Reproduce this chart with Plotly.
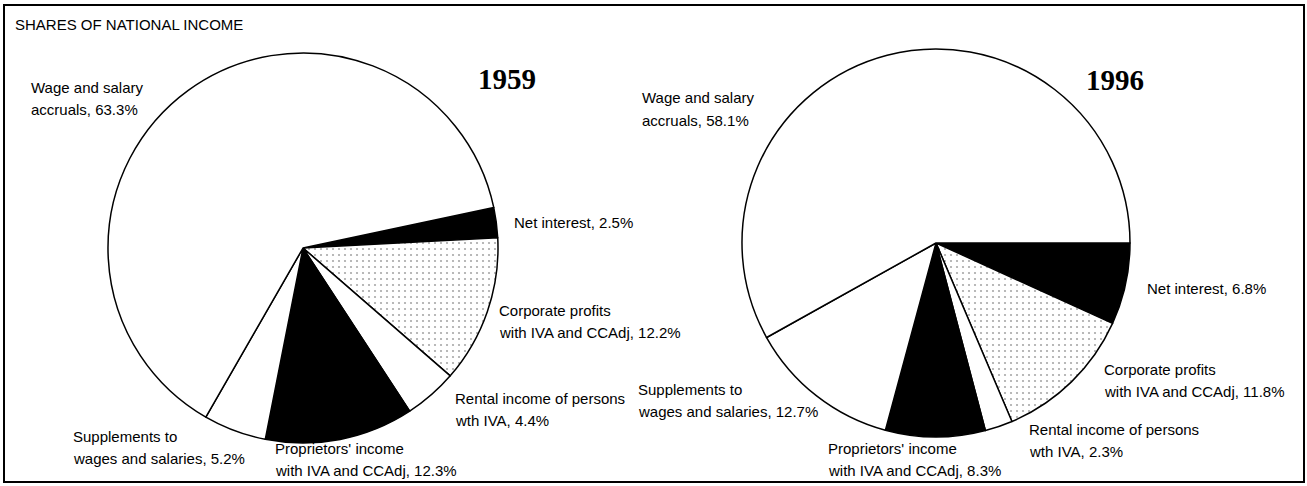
import plotly.graph_objects as go

W, H = 1307, 486

# ---- data ----
categories = ["Net interest", "Corporate profits", "Rental income", "Proprietors' income",
              "Supplements", "Wage and salary accruals"]
shares_1959 = [2.5, 12.2, 4.4, 12.3, 5.2, 63.3]
shares_1996 = [6.8, 11.8, 2.3, 8.3, 12.7, 58.1]
labels_1959 = ["Net interest, 2.5%",
               "Corporate profits<br>with IVA and CCAdj, 12.2%",
               "Rental income of persons<br>wth IVA, 4.4%",
               "Proprietors' income<br>with IVA and CCAdj, 12.3%",
               "Supplements to<br>wages and salaries, 5.2%",
               "Wage and salary<br>accruals, 63.3%"]
labels_1996 = ["Net interest, 6.8%",
               "Corporate profits<br>with IVA and CCAdj, 11.8%",
               "Rental income of persons<br>wth IVA, 2.3%",
               "Proprietors' income<br>with IVA and CCAdj, 8.3%",
               "Supplements to<br>wages and salaries, 12.7%",
               "Wage and salary<br>accruals, 58.1%"]
years = ["1959", "1996"]
title_text = "SHARES OF NATIONAL INCOME"

# ---- styling ----
fills = ["black", "white", "white", "black", "white", "white"]
patterns = ["", ".", "", "", "", ""]

def px_x(x):
    return x / W

def px_y(y):
    return 1 - y / H

def pie(values, cx, cy, r, rotation):
    return go.Pie(
        labels=categories, values=values, sort=False, direction="clockwise",
        rotation=rotation, textinfo="none", hoverinfo="label+percent",
        showlegend=False,
        domain=dict(x=[px_x(cx - r), px_x(cx + r)], y=[px_y(cy + r), px_y(cy - r)]),
        marker=dict(colors=fills, line=dict(color="black", width=1.5),
                    pattern=dict(shape=patterns, fgcolor="#a8a8a8", bgcolor="white",
                                 size=6, solidity=0.1)),
    )

fig = go.Figure([pie(shares_1959, 303, 248, 195, 78),
                 pie(shares_1996, 936, 243, 194, 90)])

FONT = "Liberation Sans, Arial, sans-serif"
annotations = []

def add_label(text, x, y_first, spacing=22):
    for i, line in enumerate(text.split("<br>")):
        annotations.append(dict(
            text=line, x=px_x(x), y=px_y(y_first + i * spacing), xref="paper", yref="paper",
            xanchor="left", yanchor="middle", showarrow=False,
            font=dict(family=FONT, size=15, color="black")))

pos_1959 = [(512, 222), (497, 310), (453, 398), (273, 448), (71, 436), (29, 87)]
pos_1996 = [(1145, 288), (1102, 369), (1027, 429), (826, 448), (636, 389), (640, 98)]
for t, (x, y) in zip(labels_1959, pos_1959):
    add_label(t, x, y)
for t, (x, y) in zip(labels_1996, pos_1996):
    add_label(t, x, y)

for yr, (x, y) in zip(years, [(507, 79), (1115, 80)]):
    annotations.append(dict(
        text="<b>" + yr + "</b>", x=px_x(x), y=px_y(y), xref="paper", yref="paper",
        xanchor="center", yanchor="middle", showarrow=False,
        font=dict(family="Liberation Serif, Times New Roman, serif", size=29, color="black")))

annotations.append(dict(
    text=title_text, x=px_x(13), y=px_y(24.5), xref="paper", yref="paper",
    xanchor="left", yanchor="middle", showarrow=False,
    font=dict(family=FONT, size=15, color="black")))

fig.update_layout(
    width=W, height=H, margin=dict(l=0, r=0, t=0, b=0),
    paper_bgcolor="white", plot_bgcolor="white",
    annotations=annotations,
    shapes=[dict(type="rect", xref="paper", yref="paper",
                 x0=px_x(4), x1=px_x(1304), y0=px_y(482), y1=px_y(5),
                 line=dict(color="black", width=2), fillcolor="rgba(0,0,0,0)")],
)

fig.write_html("out.html", config={"displayModeBar": False},
               post_script="document.body.style.margin='0';document.body.style.overflow='hidden';")
